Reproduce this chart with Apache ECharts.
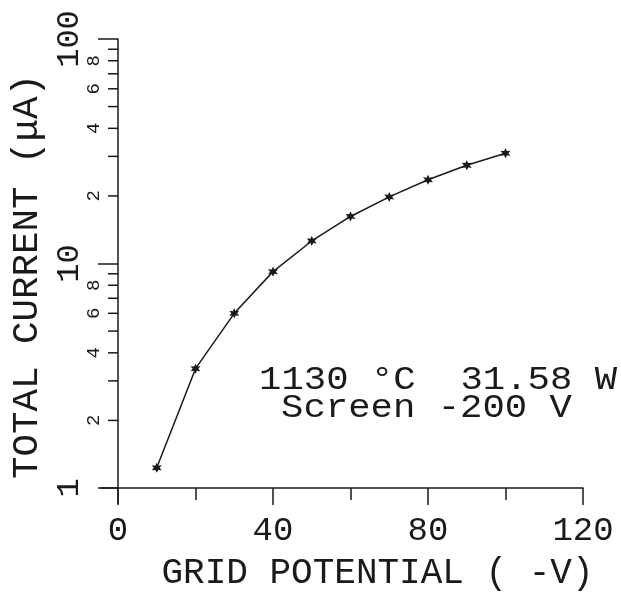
<!DOCTYPE html>
<html><head><meta charset="utf-8">
<script src="https://cdn.jsdelivr.net/npm/echarts@6/dist/echarts.min.js"></script>
<style>html,body{margin:0;padding:0;background:#fff}#c{width:621px;height:596px}</style>
</head><body><div id="c"></div>
<script>
const gridPotential = [10, 20, 30, 40, 50, 60, 70, 80, 90, 100];
const totalCurrent = [1.23, 3.4, 6.0, 9.2, 12.6, 16.2, 19.8, 23.6, 27.4, 31.0];
const yMinorTicks = [2, 3, 4, 5, 6, 7, 8, 9, 20, 30, 40, 50, 60, 70, 80, 90];
const yMinorLabelValues = [2, 4, 6, 8, 20, 40, 60, 80];
const yMinorLabelText = ['2', '4', '6', '8', '2', '4', '6', '8'];
const annotationLines = ['1130 °C  31.58 W', 'Screen -200 V'];

const FONT = '"Liberation Mono", "DejaVu Sans Mono", monospace';
const INK = '#1a1a1a';
const starPath = 'path://M0,-10 L2.5,-4.3 L8.7,-5 L5,0 L8.7,5 L2.5,4.3 L0,10 L-2.5,4.3 L-8.7,5 L-5,0 L-8.7,-5 L-2.5,-4.3 Z';

const minorData = yMinorTicks.map(v => {
  const i = yMinorLabelValues.indexOf(v);
  return [0, v, i >= 0 ? yMinorLabelText[i] : ''];
});

const chart = echarts.init(document.getElementById('c'), null, {renderer: 'canvas'});
chart.setOption({
  backgroundColor: '#fff',
  animation: false,
  grid: {left: 117, top: 39, right: 38, bottom: 97, containLabel: false},
  xAxis: {
    type: 'value', min: 0, max: 120, interval: 40,
    name: 'GRID POTENTIAL ( -V)', nameLocation: 'middle', nameGap: 67,
    nameTextStyle: {fontFamily: FONT, fontSize: 36, color: INK, padding: [0, 0, 0, 54]},
    axisLine: {show: true, onZero: false, lineStyle: {color: INK, width: 1.5}},
    axisTick: {show: true, length: 17, lineStyle: {color: INK, width: 1.5}},
    minorTick: {show: true, splitNumber: 2, length: 12, lineStyle: {color: INK, width: 1.5}},
    axisLabel: {fontFamily: FONT, fontSize: 34, color: INK, margin: 26},
    splitLine: {show: false}, minorSplitLine: {show: false}
  },
  yAxis: {
    type: 'log', logBase: 10, min: 1, max: 100,
    name: 'TOTAL CURRENT (μA)', nameLocation: 'middle', nameGap: 72, nameRotate: 90,
    nameTextStyle: {fontFamily: FONT, fontSize: 37.5, color: INK, padding: [0, 26, 0, 0]},
    axisLine: {show: true, onZero: false, lineStyle: {color: INK, width: 1.5}},
    axisTick: {show: true, length: 20, lineStyle: {color: INK, width: 1.5}},
    axisLabel: {fontFamily: FONT, fontSize: 32, color: INK, rotate: 90, margin: 32,
      formatter: v => String(Math.round(v))},
    splitLine: {show: false}
  },
  graphic: [{
    type: 'text', x: 259, y: 380, scaleX: 1.13, scaleY: 1,
    style: {text: annotationLines[0], font: '33px ' + FONT, fill: INK, verticalAlign: 'middle'}
  }, {
    type: 'text', x: 281, y: 408, scaleX: 1.13, scaleY: 1,
    style: {text: annotationLines[1], font: '33px ' + FONT, fill: INK, verticalAlign: 'middle'}
  }],
  series: [{
    type: 'line',
    data: gridPotential.map((x, i) => [x, totalCurrent[i]]),
    symbol: starPath, symbolSize: 10,
    lineStyle: {color: INK, width: 1.5},
    itemStyle: {color: INK},
    clip: false
  }, {
    type: 'custom',
    data: minorData,
    clip: false, silent: true,
    encode: {x: 0, y: 1},
    renderItem: function (params, api) {
      const p = api.coord([api.value(0), api.value(1)]);
      const txt = api.value(2);
      const children = [{
        type: 'line',
        shape: {x1: p[0] - 10, y1: p[1], x2: p[0], y2: p[1]},
        style: {stroke: INK, lineWidth: 1.5}
      }];
      if (txt) {
        children.push({
          type: 'text', x: p[0] - 24, y: p[1], rotation: Math.PI / 2,
          style: {text: String(txt), font: '19px ' + FONT, fill: INK, align: 'center', verticalAlign: 'middle'}
        });
      }
      return {type: 'group', children: children};
    }
  }, {
    type: 'custom',
    data: [[0, 1]],
    clip: false, silent: true,
    encode: {x: 0, y: 1},
    renderItem: function (params, api) {
      const p = api.coord([api.value(0), api.value(1)]);
      return {type: 'group', children: [{
        type: 'line', shape: {x1: p[0] - 17, y1: p[1], x2: p[0], y2: p[1]},
        style: {stroke: INK, lineWidth: 1.5}
      }, {
        type: 'line', shape: {x1: p[0], y1: p[1], x2: p[0], y2: p[1] + 16},
        style: {stroke: INK, lineWidth: 1.5}
      }]};
    }
  }]
});
</script></body></html>
